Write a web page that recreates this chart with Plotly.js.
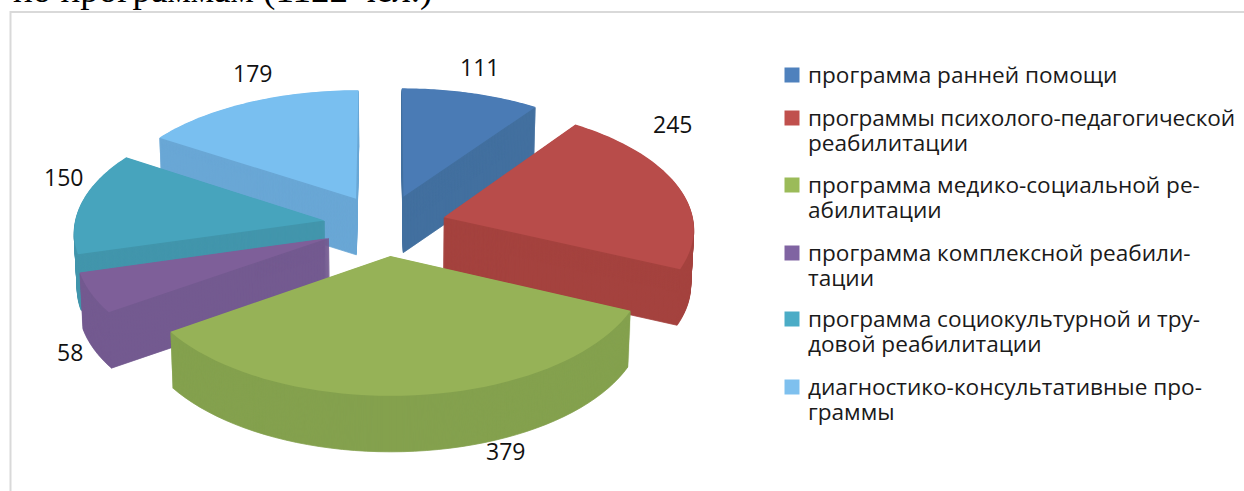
<!DOCTYPE html>
<html>
<head>
<meta charset="utf-8">
<script src="https://cdn.plot.ly/plotly-3.0.1.min.js"></script>
<style>html,body{margin:0;padding:0;background:#fff;overflow:hidden}#chart{width:1244px;height:491px}</style>
</head>
<body>
<div id="chart"></div>
<script>
const programs = [
  "программа ранней помощи",
  "программы психолого-педагогической<br>реабилитации",
  "программа медико-социальной ре-<br>абилитации",
  "программа комплексной реабили-<br>тации",
  "программа социокультурной и тру-<br>довой реабилитации",
  "диагностико-консультативные про-<br>граммы"
];
const counts = [111, 245, 379, 58, 150, 179];
const topColors = ["#4a7bb5", "#b84c4a", "#96b257", "#7e5f99", "#47a4bd", "#79bff0"];
const wallColors = ["#43709f", "#a5433f", "#84a14e", "#745a90", "#4296ac", "#6aa7d5"];
const legendColors = ["#4f81bd", "#c0504d", "#9bbb59", "#8064a2", "#4bacc6", "#7ec0ee"];
const labelPx = [[480, 67], [672, 124], [505, 451], [70, 352], [63, 177], [252, 73]];
const legendRows = [75, 118, 185, 253, 319, 387];

const W = 1244, H = 491;
const explode = 0.245, depth = 56;
const CX = 385, CY = 225;
const LEGEND_LEFT = 772;
// view of the pie plane: u to the right, v toward the viewer, unit radius, z down the side wall
const project = (u, v, z) => {
  const x = u * (250 + 20 * v) * (1 - 0.00018 * z);
  return [CX + x, CY + 124 * v + 10.7 * v * v + z];
};

const traces = [];
for (let z = depth; z >= 0; z--) {
  traces.push({
    type: "pie", labels: programs, values: counts, sort: false, direction: "clockwise", rotation: 0,
    pull: explode, textinfo: "none", hoverinfo: "skip", showlegend: z === 0,
    marker: {colors: z === 0 ? topColors : wallColors, line: {width: 0}}
  });
}

const layout = {
  width: W, height: H, margin: {l: 0, r: 0, t: 0, b: 0}, paper_bgcolor: "#fff",
  showlegend: true,
  legend: {x: 0.3, xanchor: "left", y: 1 - 55 / H, yanchor: "top", traceorder: "normal",
    bgcolor: "rgba(0,0,0,0)", font: {family: "Open Sans", size: 22.6, color: "#1a1a1a"}},
  shapes: [
    {type: "line", xref: "paper", yref: "paper", x0: 10.5 / W, x1: 10.5 / W, y0: 0, y1: 1 - 11 / H, line: {color: "#d9d9d9", width: 2}},
    {type: "line", xref: "paper", yref: "paper", x0: 10 / W, x1: 1, y0: 1 - 12 / H, y1: 1 - 12 / H, line: {color: "#d9d9d9", width: 2}}
  ],
  annotations: counts.map((c, i) => ({
    text: String(c), xref: "paper", yref: "paper", x: labelPx[i][0] / W, y: 1 - labelPx[i][1] / H,
    showarrow: false, xanchor: "center", yanchor: "middle", font: {family: "Open Sans", size: 23, color: "#111"}
  })).concat([{
    text: "по программам (1122 чел.)", xref: "paper", yref: "paper", x: 11 / W, y: 1, yshift: 33,
    xanchor: "left", yanchor: "top", showarrow: false, font: {family: "Liberation Serif", size: 37, color: "#000"}
  }])
};

Plotly.newPlot("chart", traces, layout, {staticPlot: true, displayModeBar: false}).then(gd => {
  const layers = Array.from(gd.querySelectorAll(".pielayer .trace"));
  const all = [];
  layers.forEach((layer, idx) => {
    const z = depth - idx;
    layer.querySelectorAll("g.slice").forEach(g => {
      const path = g.querySelector("path.surface");
      const pt = path.__data__;
      const ang = p => Math.atan2(p[0], -p[1]);
      let a0 = ang(pt.px0), a1 = ang(pt.px1);
      while (a1 <= a0) a1 += 2 * Math.PI;
      const mid = (a0 + a1) / 2;
      const ax = explode * Math.sin(mid), ay = -explode * Math.cos(mid);
      const pts = [project(ax, ay, z)];
      const n = 48;
      for (let k = 0; k <= n; k++) {
        const a = a0 + (a1 - a0) * k / n;
        pts.push(project(ax + Math.sin(a), ay - Math.cos(a), z));
      }
      path.setAttribute("d", "M" + pts.map(p => p[0].toFixed(2) + "," + p[1].toFixed(2)).join("L") + "Z");
      if (z > 0) {
        path.style.stroke = wallColors[pt.i];
        path.style.strokeWidth = "0.8px";
        path.style.strokeOpacity = 1;
      }
      all.push({g, rear: Math.cos(mid), z});
    });
  });
  // paint slice by slice from the back, each from its bottom up
  all.sort((a, b) => (b.rear - a.rear) || (b.z - a.z)).forEach(s => layers[layers.length - 1].appendChild(s.g));

  const legend = gd.querySelector(".legend");
  const legendTop = legend.getCTM().f;
  legend.setAttribute("transform", "translate(" + LEGEND_LEFT + "," + legendTop + ")");
  const box = gd.querySelector(".legend .scrollbox");
  if (box) box.removeAttribute("clip-path");
  gd.querySelectorAll(".legend .traces").forEach((t, i) => {
    t.setAttribute("transform", "translate(0," + (legendRows[i] - legendTop) + ")");
    const sym = t.querySelector(".legendpoints path");
    if (sym) {
      sym.setAttribute("d", "M7.5,7.5H-7.5V-7.5H7.5Z");
      sym.style.fill = legendColors[i];
      sym.style.stroke = "none";
    }
    const txt = t.querySelector(".legendtext");
    const tx = parseFloat(txt.getAttribute("x")) - 4;
    txt.setAttribute("x", tx);
    txt.setAttribute("y", 7.5);
    txt.querySelectorAll("tspan.line").forEach((ln, k) => {
      ln.setAttribute("x", tx);
      ln.setAttribute("y", 7.5);
      ln.setAttribute("dy", k * 25.5);
      if (i === 1 && k === 0) ln.setAttribute("textLength", 427);
    });
  });
});
</script>
</body>
</html>
